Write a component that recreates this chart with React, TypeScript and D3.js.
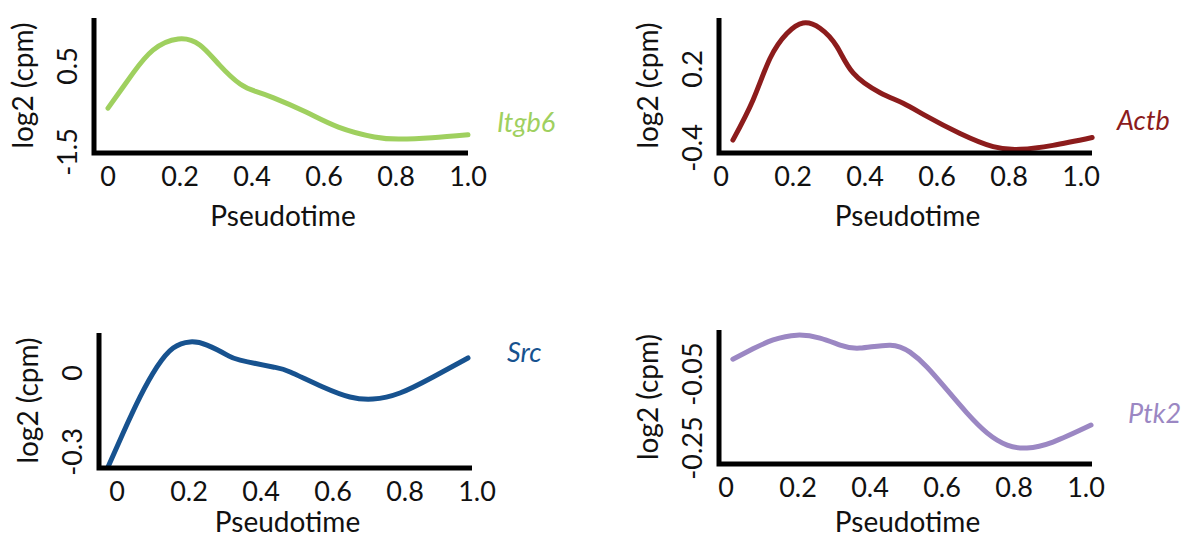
import React from "react";
import * as d3 from "d3";

// ---- data ----
const xTickLabels = ["0", "0.2", "0.4", "0.6", "0.8", "1.0"];
const xTickValues = [0, 0.2, 0.4, 0.6, 0.8, 1.0];

const itgb6X = [0, 0.035, 0.07, 0.125, 0.195, 0.255, 0.31, 0.367, 0.41, 0.46, 0.55, 0.64, 0.74, 0.81, 0.9, 1.0];
const itgb6Y = [-0.48, -0.07, 0.34, 0.87, 1.13, 0.99, 0.52, 0.08, -0.09, -0.24, -0.57, -0.92, -1.15, -1.2, -1.17, -1.1];
const itgb6Ticks = [-1.5, 0.5];
const itgb6TickLabels = ["-1.5", "0.5"];

const actbX = [0.033, 0.089, 0.136, 0.183, 0.228, 0.275, 0.322, 0.367, 0.442, 0.506, 0.572, 0.664, 0.756, 0.831, 0.922, 1.031];
const actbY = [-0.34, -0.035, 0.28, 0.47, 0.55, 0.51, 0.37, 0.17, 0.02, -0.06, -0.16, -0.29, -0.39, -0.41, -0.38, -0.32];
const actbTicks = [-0.4, 0.2];
const actbTickLabels = ["-0.4", "0.2"];

const srcX = [-0.025, 0.017, 0.064, 0.111, 0.156, 0.203, 0.25, 0.306, 0.342, 0.433, 0.481, 0.572, 0.647, 0.711, 0.786, 0.878, 0.975];
const srcY = [-0.357, -0.228, -0.091, 0.023, 0.095, 0.118, 0.106, 0.068, 0.049, 0.023, 0.004, -0.053, -0.091, -0.099, -0.076, -0.015, 0.057];
const srcTicks = [-0.3, 0];
const srcTickLabels = ["-0.3", "0"];

const ptk2X = [0.019, 0.075, 0.131, 0.197, 0.261, 0.317, 0.372, 0.456, 0.511, 0.558, 0.614, 0.669, 0.725, 0.781, 0.836, 0.908, 1.014];
const ptk2Y = [-0.01, 0.018, 0.042, 0.055, 0.047, 0.028, 0.02, 0.028, 0.009, -0.031, -0.093, -0.155, -0.209, -0.242, -0.25, -0.234, -0.188];
const ptk2Ticks = [-0.25, -0.05];
const ptk2TickLabels = ["-0.25", "-0.05"];

const geneNames = ["Itgb6", "Actb", "Src", "Ptk2"];
const geneColors = ["#9fd05f", "#8c1c1c", "#17528f", "#9b87c3"];

// ---- layout ----
const panels = [
  { xs: itgb6X, ys: itgb6Y, ticks: itgb6Ticks, tickLabels: itgb6TickLabels,
    axisX: 94, axisTop: 18, axisY: 153, axisRight: 468, xr: [108, 468], yr: [152, 66], labelX: 497, labelY: 132, titleDy: 73 },
  { xs: actbX, ys: actbY, ticks: actbTicks, tickLabels: actbTickLabels,
    axisX: 719, axisTop: 18, axisY: 153, axisRight: 1092, xr: [721, 1081], yr: [148, 69], labelX: 1117, labelY: 130, titleDy: 73 },
  { xs: srcX, ys: srcY, ticks: srcTicks, tickLabels: srcTickLabels,
    axisX: 99, axisTop: 333, axisY: 468, axisRight: 472, xr: [117, 477], yr: [452, 373], labelX: 507, labelY: 362, titleDy: 64 },
  { xs: ptk2X, ys: ptk2Y, ticks: ptk2Ticks, tickLabels: ptk2TickLabels,
    axisX: 719, axisTop: 330, axisY: 464, axisRight: 1092, xr: [726, 1086], yr: [448, 374], labelX: 1128, labelY: 423, titleDy: 68 },
];

const FONT = "Lato, 'Open Sans', sans-serif";

function Panel({ p, name, color }: any) {
  const x = d3.scaleLinear().domain([0, 1]).range(p.xr);
  const y = d3.scaleLinear().domain([p.ticks[0], p.ticks[1]]).range(p.yr);
  const pts: [number, number][] = p.xs.map((v: number, i: number) => [v, p.ys[i]]);
  const line = d3
    .line<[number, number]>()
    .x((d) => x(d[0]))
    .y((d) => y(d[1]))
    .curve(d3.curveNatural);
  const axisPath = `M${p.axisX},${p.axisTop} L${p.axisX},${p.axisY} L${p.axisRight},${p.axisY}`;
  const midY = (p.axisTop + p.axisY) / 2;
  const midX = (p.axisX + p.axisRight) / 2;
  return (
    <g>
      <path d={line(pts) || ""} fill="none" stroke={color} strokeWidth={5} strokeLinecap="round" strokeLinejoin="round" />
      <path d={axisPath} fill="none" stroke="#000" strokeWidth={5} strokeLinejoin="miter" />
      {xTickValues.map((t, i) => (
        <text key={i} x={x(t)} y={p.axisY + 33} textAnchor="middle" fontSize={27} fontFamily={FONT} fill="#111">
          {xTickLabels[i]}
        </text>
      ))}
      {p.ticks.map((t: number, i: number) => (
        <text
          key={i}
          transform={`translate(${p.axisX - 17},${y(t)}) rotate(-90)`}
          textAnchor="middle"
          fontSize={27}
          fontFamily={FONT}
          fill="#111"
        >
          {p.tickLabels[i]}
        </text>
      ))}
      <text
        transform={`translate(${p.axisX - 61},${midY}) rotate(-90)`}
        textAnchor="middle"
        fontSize={28}
        fontFamily={FONT}
        fill="#111"
      >
        log2 (cpm)
      </text>
      <text x={midX + 2} y={p.axisY + p.titleDy} textAnchor="middle" fontSize={28} fontFamily={FONT} fill="#111">
        Pseudotime
      </text>
      <text x={p.labelX} y={p.labelY} fontSize={27} fontStyle="italic" fontFamily={FONT} fill={color}>
        {name}
      </text>
    </g>
  );
}

export default function App() {
  return (
    <svg
      width={1189}
      height={539}
      style={{ position: "absolute", left: 0, top: 0, background: "#fff" }}
    >
      {panels.map((p, i) => (
        <Panel key={i} p={p} name={geneNames[i]} color={geneColors[i]} />
      ))}
    </svg>
  );
}
